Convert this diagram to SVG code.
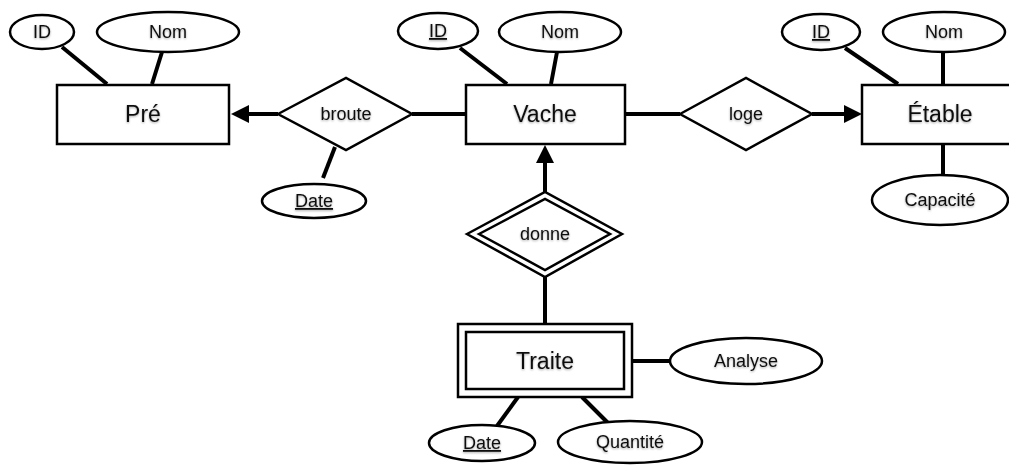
<svg xmlns="http://www.w3.org/2000/svg" width="1009" height="466" viewBox="0 0 1009 466">
<style>
.sh{fill:#fff;stroke:#000;stroke-width:2.5}
.ln{stroke:#000;stroke-width:4;fill:none}
.t{font-family:"Liberation Sans",Arial,sans-serif;text-anchor:middle;fill:#111;filter:url(#ds)}
.a{font-size:18px}
.e{font-size:23px}
.u{text-decoration:underline}
</style>
<defs>
<filter id="ds" x="-20%" y="-40%" width="140%" height="180%">
<feDropShadow dx="0" dy="1" stdDeviation="1" flood-color="#000" flood-opacity="0.35"/>
</filter>
</defs>
<g id="connectors">
<line class="ln" x1="62" y1="47" x2="107" y2="84"/>
<line class="ln" x1="162" y1="52" x2="152" y2="84"/>
<path class="ln" d="M278,114 L248,114"/>
<path d="M231,114 L249,105 L249,123 Z" fill="#000"/>
<line class="ln" x1="335" y1="147" x2="323" y2="178"/>
<line class="ln" x1="412" y1="114" x2="466" y2="114"/>
<line class="ln" x1="460" y1="48" x2="507" y2="84"/>
<line class="ln" x1="557" y1="52" x2="551" y2="84"/>
<line class="ln" x1="625" y1="114" x2="680" y2="114"/>
<path class="ln" d="M812,114 L845,114"/>
<path d="M862,114 L844,105 L844,123 Z" fill="#000"/>
<line class="ln" x1="845" y1="48" x2="898" y2="84"/>
<line class="ln" x1="943" y1="52" x2="943" y2="84"/>
<line class="ln" x1="943" y1="144" x2="943" y2="175"/>
<path class="ln" d="M545,192 L545,162"/>
<path d="M545,145 L536,163 L554,163 Z" fill="#000"/>
<line class="ln" x1="545" y1="277" x2="545" y2="324"/>
<line class="ln" x1="632" y1="361" x2="670" y2="361"/>
<line class="ln" x1="518" y1="397" x2="497" y2="426"/>
<line class="ln" x1="582" y1="397" x2="608" y2="423"/>
</g>
<g id="pre">
<rect class="sh" x="57" y="85" width="172" height="59"/>
<text class="t e" x="143" y="122">Pré</text>
</g>
<g id="pre-id">
<ellipse class="sh" cx="42" cy="32" rx="32" ry="17"/>
<text class="t a" x="42" y="38">ID</text>
</g>
<g id="pre-nom">
<ellipse class="sh" cx="168" cy="32" rx="71" ry="20"/>
<text class="t a" x="168" y="38">Nom</text>
</g>
<g id="broute">
<polygon class="sh" points="278,114 346,78 412,114 346,150"/>
<text class="t a" x="346" y="120">broute</text>
</g>
<g id="broute-date">
<ellipse class="sh" cx="314" cy="201" rx="52" ry="17"/>
<text class="t a u" x="314" y="207">Date</text>
</g>
<g id="vache">
<rect class="sh" x="466" y="85" width="159" height="59"/>
<text class="t e" x="545" y="122">Vache</text>
</g>
<g id="vache-id">
<ellipse class="sh" cx="438" cy="31" rx="40" ry="18"/>
<text class="t a u" x="438" y="37">ID</text>
</g>
<g id="vache-nom">
<ellipse class="sh" cx="560" cy="32" rx="61" ry="20"/>
<text class="t a" x="560" y="38">Nom</text>
</g>
<g id="loge">
<polygon class="sh" points="680,114 746,78 812,114 746,150"/>
<text class="t a" x="746" y="120">loge</text>
</g>
<g id="etable">
<rect class="sh" x="862" y="85" width="158" height="59"/>
<text class="t e" x="940" y="122">Étable</text>
</g>
<g id="etable-id">
<ellipse class="sh" cx="821" cy="32" rx="39" ry="18"/>
<text class="t a u" x="821" y="38">ID</text>
</g>
<g id="etable-nom">
<ellipse class="sh" cx="944" cy="32" rx="61" ry="20"/>
<text class="t a" x="944" y="38">Nom</text>
</g>
<g id="etable-capacite">
<ellipse class="sh" cx="940" cy="200" rx="68" ry="25"/>
<text class="t a" x="940" y="206">Capacité</text>
</g>
<g id="donne">
<polygon class="sh" points="467,234 545,192 622,234 545,277"/>
<polygon class="sh" points="479,234 545,199 610,234 545,270"/>
<text class="t a" x="545" y="240">donne</text>
</g>
<g id="traite">
<rect class="sh" x="458" y="324" width="174" height="73"/>
<rect class="sh" x="466" y="332" width="158" height="57"/>
<text class="t e" x="545" y="369">Traite</text>
</g>
<g id="traite-analyse">
<ellipse class="sh" cx="746" cy="361" rx="76" ry="23"/>
<text class="t a" x="746" y="367">Analyse</text>
</g>
<g id="traite-date">
<ellipse class="sh" cx="482" cy="443" rx="53" ry="18"/>
<text class="t a u" x="482" y="449">Date</text>
</g>
<g id="traite-quantite">
<ellipse class="sh" cx="630" cy="442" rx="72" ry="21"/>
<text class="t a" x="630" y="448">Quantité</text>
</g>
</svg>
